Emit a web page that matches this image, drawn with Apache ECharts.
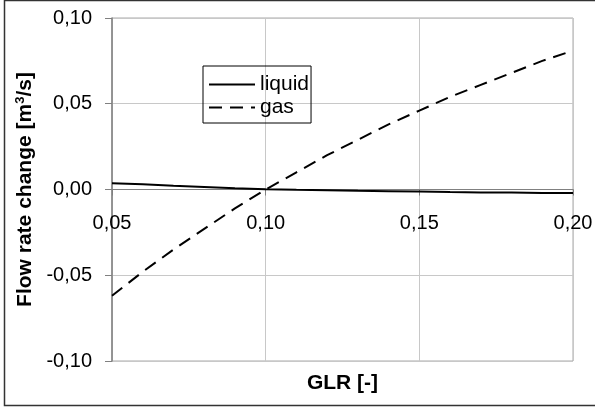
<!DOCTYPE html>
<html>
<head>
<meta charset="utf-8">
<script src="https://cdn.jsdelivr.net/npm/echarts@6/dist/echarts.min.js"></script>
<style>
  html, body { margin: 0; padding: 0; background: #fff; }
  #chart { width: 595px; height: 410px; }
</style>
</head>
<body>
<div id="chart"></div>
<script>
// GLR values (x) and flow rate changes (m3/s) for each phase
const glr = [0.05, 0.06, 0.07, 0.08, 0.09, 0.10, 0.11, 0.12, 0.13, 0.14, 0.15, 0.16, 0.17, 0.18, 0.19, 0.20];
const liquid = [0.0037, 0.0030, 0.0022, 0.0015, 0.0008, 0.0002, -0.0002, -0.0005, -0.0008, -0.0010, -0.0012, -0.0015, -0.0017, -0.0018, -0.0020, -0.0021];
const gas = [-0.062, -0.048, -0.035, -0.023, -0.011, 0.000, 0.010, 0.020, 0.029, 0.038, 0.046, 0.054, 0.061, 0.068, 0.075, 0.081];

const xTicks = { min: 0.05, max: 0.20, step: 0.05 };
const yTicks = { min: -0.10, max: 0.10, step: 0.05 };

const fmt = v => v.toFixed(2).replace('.', ',');
const pairs = ys => glr.map((x, i) => [x, ys[i]]);
const FONT = '"Liberation Sans", Arial, sans-serif';

// plot box in pixels
const GRID = { left: 112, right: 22, top: 18, bottom: 49 };
const plotH = 410 - GRID.top - GRID.bottom;
// the x axis crosses the y axis at zero: lift it from the bottom edge to that level
const zeroLift = plotH * (0 - yTicks.min) / (yTicks.max - yTicks.min);

const chart = echarts.init(document.getElementById('chart'), null, { renderer: 'canvas' });
chart.setOption({
  animation: false,
  backgroundColor: '#fff',
  grid: {
    left: GRID.left, right: GRID.right, top: GRID.top, bottom: GRID.bottom,
    outerBoundsMode: 'none',
    containLabel: false,
    show: true, borderColor: '#a8a8a8', borderWidth: 1
  },
  graphic: [{
    type: 'rect',
    shape: { x: 4.5, y: 0.5, width: 600, height: 405 },
    style: { fill: 'none', stroke: '#333', lineWidth: 1.5 },
    silent: true
  }],
  legend: {
    orient: 'vertical',
    left: 203, top: 66,
    padding: [8, 2, 5, 5],
    itemGap: 2,
    itemWidth: 46, itemHeight: 20,
    borderColor: '#000', borderWidth: 1,
    itemStyle: { opacity: 0 },
    textStyle: { fontFamily: FONT, fontSize: 21, color: '#000' },
    data: ['liquid', 'gas']
  },
  xAxis: {
    type: 'value',
    position: 'bottom',
    offset: -zeroLift,
    min: xTicks.min, max: xTicks.max, interval: xTicks.step,
    name: 'GLR [-]',
    nameLocation: 'middle',
    nameGap: 183,
    nameTextStyle: { fontFamily: FONT, fontSize: 21, fontWeight: 'bold', color: '#000' },
    axisLine: { show: true, onZero: false, lineStyle: { color: '#808080', width: 1 } },
    axisTick: { show: true, length: 6, lineStyle: { color: '#808080' } },
    axisLabel: { formatter: fmt, fontFamily: FONT, fontSize: 20, color: '#000', margin: 24 },
    splitLine: { show: true, lineStyle: { color: '#c8c8c8', width: 1 } }
  },
  yAxis: {
    type: 'value',
    min: yTicks.min, max: yTicks.max, interval: yTicks.step,
    name: 'Flow rate change [m{sup|3}/s]',
    nameLocation: 'middle',
    nameGap: 73,
    nameTextStyle: {
      fontFamily: FONT, fontSize: 21, fontWeight: 'bold', color: '#000',
      rich: { sup: { fontFamily: FONT, fontSize: 13, fontWeight: 'bold', color: '#000', verticalAlign: 'top', padding: [0, 0, 10, 0] } }
    },
    axisLine: { show: true, onZero: false, lineStyle: { color: '#808080', width: 1.5 } },
    axisTick: { show: true, length: 7, lineStyle: { color: '#808080' } },
    axisLabel: { formatter: fmt, fontFamily: FONT, fontSize: 20, color: '#000', margin: 20 },
    splitLine: { show: true, lineStyle: { color: '#c8c8c8', width: 1 } }
  },
  series: [
    {
      name: 'liquid', type: 'line', data: pairs(liquid),
      symbol: 'none', z: 3,
      lineStyle: { color: '#000', width: 2, type: 'solid' },
      itemStyle: { color: '#000' }
    },
    {
      name: 'gas', type: 'line', data: pairs(gas),
      symbol: 'none', z: 4,
      lineStyle: { color: '#000', width: 2, type: [13, 8] },
      itemStyle: { color: '#000' }
    }
  ]
});
</script>
</body>
</html>
